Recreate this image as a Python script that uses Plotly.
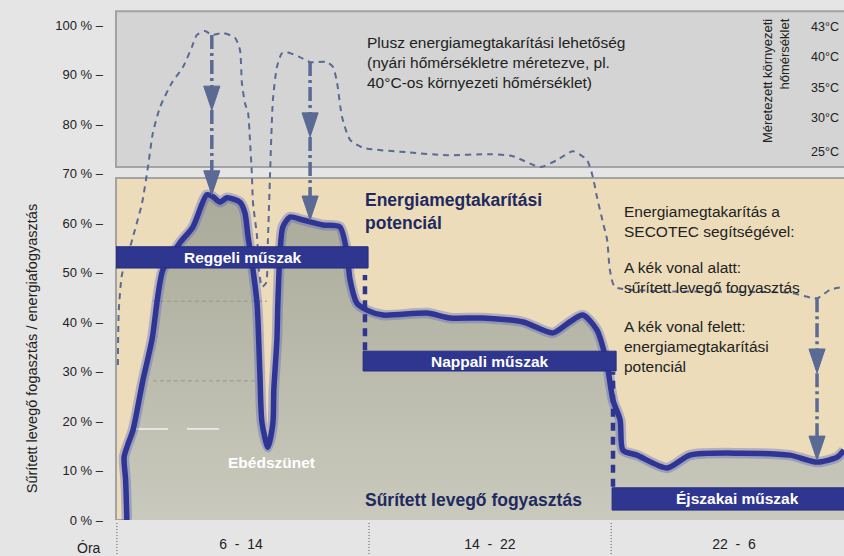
import plotly.graph_objects as go

# ---------------- data (x = hours after 6:00, y = %) ----------------
curve_h = [0.32, 0.28, 0.23, 0.35, 0.52, 0.84, 1.13, 1.48, 2.03, 2.45, 2.90, 3.10, 3.32, 3.55,
           3.97, 4.13, 4.23, 4.39, 4.52, 4.61, 4.68, 4.87, 5.03, 5.06, 5.16, 5.19, 5.26, 5.35,
           5.58, 6.0, 6.65, 7.19, 7.42, 7.52, 7.74, 8.06, 8.58, 10.0, 10.74, 11.81, 13.1,
           14.06, 14.6, 15.03, 15.48, 15.8, 16.0, 16.23, 16.32, 16.77, 17.74, 18.48, 20.1,
           21.7, 22.58, 23.23, 23.45]
curve_v = [0, 8.1, 12.7, 15.2, 18.2, 28.3, 36.4, 50.5, 56.0, 59.2, 65.7, 65.3, 64.2, 65.1,
           64.2, 62.0, 57.2, 50.5, 43.8, 29.7, 19.6, 14.7, 19.6, 26.3, 36.4, 43.8, 53.9, 59.2,
           61.2, 60.6, 59.6, 59.2, 53.9, 48.5, 43.8, 42.4, 41.4, 41.8, 40.8, 40.8, 40.0,
           37.8, 40.0, 41.4, 38.4, 31.7, 24.2, 20.2, 14.1, 13.1, 10.5, 13.1, 13.5,
           13.1, 11.7, 12.7, 14.1]

summer_h = [0.03, 0.06, 0.16, 0.35, 0.58, 0.81, 1.0, 1.16, 1.39, 1.77, 2.13, 2.42, 2.58, 2.84,
            3.06, 3.42, 3.81, 3.97, 4.03, 4.13, 4.23, 4.29, 4.35, 4.39, 4.52, 4.58, 4.68, 4.81,
            4.87, 4.94, 5.03, 5.16, 5.32, 5.48, 5.90, 6.23, 6.77, 6.97, 7.10, 7.26, 7.52, 7.94,
            9.35, 10.65, 12.03, 12.77, 13.65, 14.19, 14.71, 15.16, 15.35, 15.48, 15.68, 15.81,
            15.90, 16.06, 17.19, 19.45, 21.71, 22.58, 23.0, 23.45]
summer_v = [31.3, 42.4, 49.5, 53.5, 58.6, 64.0, 71.3, 78.2, 83.4, 88.3, 91.5, 95.6, 98.0, 98.8,
            98.0, 98.4, 97.4, 94.9, 88.3, 84.2, 82.2, 76.8, 70.1, 64.0, 57.2, 50.5, 47.1, 47.9,
            56.6, 70.1, 84.8, 91.5, 94.3, 94.5, 93.5, 92.5, 92.5, 91.5, 88.3, 81.4, 76.8, 75.2,
            74.3, 73.7, 73.9, 73.5, 71.3, 72.7, 74.5, 72.7, 69.3, 65.3, 60.0, 56.6,
            50.5, 47.1, 46.3, 46.1, 45.9, 44.8, 46.5, 47.1]

# arrows: position, start (dashed curve), mid arrow tip, end tip (blue curve)
arrow_h = [3.06, 6.23, 22.58]
arrow_top = [98.0, 92.5, 44.8]
arrow_mid = [82.8, 77.4, 29.7]
arrow_end = [65.7, 60.6, 12.1]

# shifts
shift_names = ["Reggeli műszak", "Nappali műszak", "Éjszakai műszak"]
shift_start = [-0.03, 7.94, 15.97]
shift_end = [8.1, 16.1, 23.6]
shift_low = [50.9, 30.1, 2.0]
shift_high = [55.2, 34.1, 6.5]
shift_label_h = [4.06, 12.03, 20.0]
boundary_h = [8.0, 16.0]
boundary_low = [34.3, 6.7]
boundary_high = [49.5, 29.9]

# axis ticks
y_ticks = [0, 10, 20, 30, 40, 50, 60, 70, 80, 90, 100]
y_ticktext = [f"{v} % –" for v in y_ticks]
x_ticks = [4.0, 12.03, 19.9]
x_ticktext = ["6  -  14", "14  -  22", "22  -  6"]
separator_h = [0.0, 8.13, 15.94]

temp_labels = ["43°C", "40°C", "35°C", "30°C", "25°C"]
temp_v = [99.6, 93.5, 87.3, 81.2, 74.3]

# panels
top_panel = (71.3, 102.8)
main_panel_top = 69.1

FONT = "Liberation Sans Narrow, Arial Narrow, Liberation Sans, Arial, sans-serif"
NAVY = "#1f2a5e"
BLUE = "#2f3594"
SLATE = "#5a6a94"

fig = go.Figure()

# filled area under consumption curve
fig.add_trace(go.Scatter(
    x=curve_h, y=curve_v, mode="lines", line=dict(width=0, shape="spline", smoothing=0.7),
    fill="tozeroy",
    fillgradient=dict(type="vertical", colorscale=[[0, "#c9cabd"], [1, "#a9aa99"]]),
    hoverinfo="skip"))
fig.add_trace(go.Scatter(x=[1.16, 4.84], y=[44.2, 44.2], mode="lines",
                         line=dict(color="#97978d", width=1, dash="4px,3px"), hoverinfo="skip"))
fig.add_trace(go.Scatter(x=[1.16, 4.77], y=[28.1, 28.1], mode="lines",
                         line=dict(color="#97978d", width=1, dash="4px,3px"), hoverinfo="skip"))
fig.add_trace(go.Scatter(x=[0.61, 1.65, None, 2.26, 3.29], y=[18.4, 18.4, None, 18.4, 18.4],
                         mode="lines", line=dict(color="#f2f2f2", width=1.5), hoverinfo="skip"))

# dashed summer curve
fig.add_trace(go.Scatter(x=summer_h, y=summer_v, mode="lines",
                         line=dict(color=SLATE, width=2, dash="6px,5px", shape="spline", smoothing=0.6),
                         hoverinfo="skip"))

# glow + blue line
fig.add_trace(go.Scatter(x=curve_h, y=curve_v, mode="lines",
                         line=dict(color="rgba(80,90,190,0.35)", width=10.5, shape="spline", smoothing=0.7),
                         hoverinfo="skip"))
fig.add_trace(go.Scatter(x=curve_h, y=curve_v, mode="lines",
                         line=dict(color=BLUE, width=5.5, shape="spline", smoothing=0.7),
                         hoverinfo="skip"))

# arrows
head_w, head_len = 0.26, 4.85
for h, top, mid, end in zip(arrow_h, arrow_top, arrow_mid, arrow_end):
    fig.add_trace(go.Scatter(x=[h, h], y=[top, end + head_len], mode="lines",
                             line=dict(color=SLATE, width=3.5, dash="14px,4px,3px,4px"),
                             hoverinfo="skip"))
    for tip in (mid, end):
        fig.add_trace(go.Scatter(x=[h - head_w, h + head_w, h, h - head_w],
                                 y=[tip + head_len, tip + head_len, tip, tip + head_len],
                                 mode="lines", fill="toself", fillcolor=SLATE,
                                 line=dict(color=SLATE, width=1), hoverinfo="skip"))

shapes = [
    dict(type="rect", xref="paper", yref="y", x0=0, x1=1.01, y0=top_panel[0], y1=top_panel[1],
         fillcolor="#d3d4d3", line=dict(color="#a3a3a3", width=2), layer="below"),
    dict(type="rect", xref="paper", yref="y", x0=0, x1=1.01, y0=0, y1=main_panel_top,
         fillcolor="#ecdcba", line=dict(color="#a3a3a3", width=2), layer="below"),
]
for s0, s1, lo, hi in zip(shift_start, shift_end, shift_low, shift_high):
    shapes.append(dict(type="rect", xref="x", yref="y", x0=s0, x1=s1, y0=lo, y1=hi,
                       fillcolor="#2e3690", line=dict(color="#262d80", width=1), layer="above"))
for h, lo, hi in zip(boundary_h, boundary_low, boundary_high):
    shapes.append(dict(type="line", xref="x", yref="y", x0=h, x1=h, y0=lo, y1=hi,
                       line=dict(color="#2e3690", width=4.5, dash="8px,6px"), layer="above"))
for h in separator_h:
    shapes.append(dict(type="line", xref="x", yref="paper", x0=h, x1=h, y0=-0.006, y1=-0.075,
                       line=dict(color="#555555", width=1, dash="1px,2px")))

ann = []
def txt(x, y, text, size=17, color="#222222", bold=False, xanchor="left", yanchor="middle",
        xref="x", yref="y", align="left", angle=0):
    if bold:
        text = "<b>" + text.replace("<br>", "</b><br><b>") + "</b>"
    ann.append(dict(x=x, y=y, xref=xref, yref=yref, text=text, showarrow=False,
                    xanchor=xanchor, yanchor=yanchor, align=align, textangle=angle,
                    font=dict(family=FONT, size=size, color=color)))

txt(8.0, 92.4, "Plusz energiamegtakarítási lehetőség<br>(nyári hőmérsékletre méretezve, pl.<br>40°C-os környezeti hőmérséklet)", size=15.5)
txt(7.95, 62.4, "Energiamegtakarítási<br>potenciál", size=17.5, color=NAVY, bold=True)
txt(16.3, 60.4, "Energiamegtakarítás a<br>SECOTEC segítségével:", size=15.5)
txt(16.3, 48.9, "A kék vonal alatt:<br>sűrített levegő fogyasztás", size=15.5)
txt(16.3, 35.0, "A kék vonal felett:<br>energiamegtakarítási<br>potenciál", size=15.5)
txt(7.95, 4.0, "Sűrített levegő fogyasztás", size=17.5, color=NAVY, bold=True)
txt(4.97, 11.7, "Ebédszünet", size=15.5, color="#ffffff", bold=True, xanchor="center")
for name, h, lo, hi in zip(shift_names, shift_label_h, shift_low, shift_high):
    txt(h, (lo + hi) / 2, name, size=15.5, color="#ffffff", bold=True, xanchor="center")
for lab, v in zip(temp_labels, temp_v):
    txt(23.35, v, lab, size=12.5, xanchor="right")
txt(21.26, 88.7, "Méretezett környezeti<br>hőmérséklet", size=13, xanchor="center",
    align="right", angle=-90)
txt(-0.1154, 34.7, "Sűrített levegő fogasztás / energiafogyasztás", size=14.5,
    xref="paper", xanchor="center", angle=-90)
txt(-0.018, -0.055, "Óra", size=14, xref="paper", yref="paper", xanchor="right")

fig.update_layout(
    width=844, height=556,
    margin=dict(l=116, r=0, t=10, b=36),
    paper_bgcolor="#e5e5e5", plot_bgcolor="#e5e5e5",
    showlegend=False,
    shapes=shapes, annotations=ann,
    font=dict(family=FONT, color="#222222"),
    xaxis=dict(range=[-0.03, 23.45], showgrid=False, zeroline=False, showline=False,
               tickmode="array", tickvals=x_ticks, ticktext=x_ticktext, ticks="",
               ticklabelstandoff=14, tickfont=dict(size=14, family=FONT, color="#222222"),
               fixedrange=True),
    yaxis=dict(range=[0, 103.03], showgrid=False, zeroline=False, showline=False,
               tickmode="array", tickvals=y_ticks, ticktext=y_ticktext, ticks="",
               ticklabelstandoff=12, tickfont=dict(size=13, family=FONT, color="#222222"),
               fixedrange=True),
)

fig.write_html(
    "out.html",
    config={"displayModeBar": False},
    post_script="document.body.style.margin='0';document.body.style.padding='0';"
                "document.body.style.background='#e5e5e5';",
)
